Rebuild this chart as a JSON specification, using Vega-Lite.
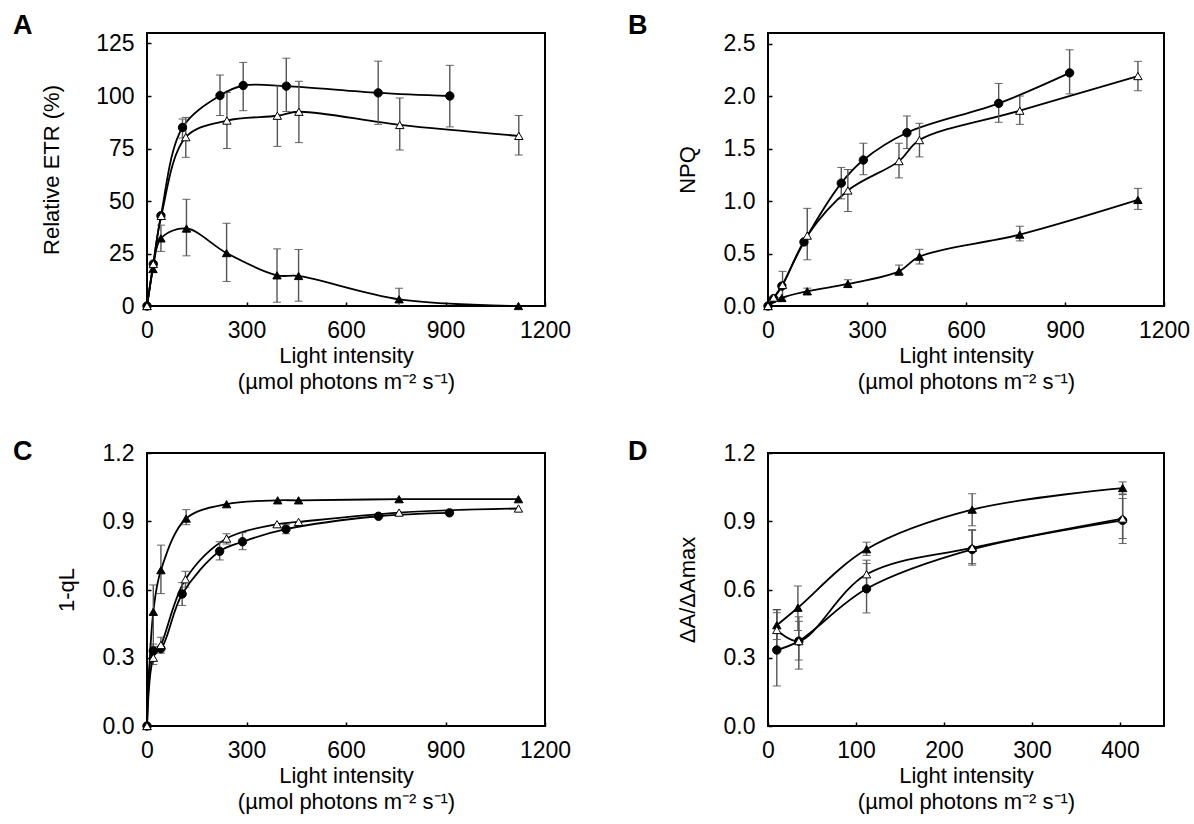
{
  "$schema": "https://vega.github.io/schema/vega-lite/v6.json",
  "background": "white",
  "padding": {"left": 12, "top": 10, "right": 5, "bottom": 5},
  "config": {
    "font": "Liberation Sans",
    "view": {"stroke": "black", "strokeWidth": 2},
    "axis": {"grid": false, "domain": false, "tickColor": "black", "tickSize": -4, "tickWidth": 1.5, "labelFontSize": 23, "titleFontSize": 22, "titleFontWeight": "normal", "labelColor": "black", "titleColor": "black", "labelFlush": false, "labelOverlap": false},
    "axisX": {"labelPadding": 17, "titlePadding": 3, "titleLineHeight": 26},
    "axisY": {"labelPadding": 17, "titlePadding": 24},
    "title": {"fontSize": 27, "fontWeight": "bold", "anchor": "start", "frame": "group", "baseline": "alphabetic", "offset": 0, "color": "black"}
  },
  "data": {"values": [
    {"p":"A","s":"c","x":0,"y":0},
    {"p":"A","s":"c","x":19,"y":20},
    {"p":"A","s":"c","x":42,"y":43},
    {"p":"A","s":"c","x":107,"y":85,"lo":80,"hi":89},
    {"p":"A","s":"c","x":220,"y":100.2,"lo":90.7,"hi":110},
    {"p":"A","s":"c","x":290,"y":105,"lo":93,"hi":116},
    {"p":"A","s":"c","x":420,"y":104.7,"lo":92.6,"hi":118},
    {"p":"A","s":"c","x":697,"y":101.5,"lo":86.5,"hi":116.6},
    {"p":"A","s":"c","x":913,"y":100,"lo":85.3,"hi":114.6},
    {"p":"A","s":"t","x":0,"y":0},
    {"p":"A","s":"t","x":18,"y":17.6},
    {"p":"A","s":"t","x":42,"y":32.2,"lo":26,"hi":38.5},
    {"p":"A","s":"t","x":119,"y":36.9,"lo":23.9,"hi":50.8},
    {"p":"A","s":"t","x":240,"y":25.2,"lo":11.7,"hi":39.4},
    {"p":"A","s":"t","x":392,"y":14.6,"lo":1.8,"hi":27.2},
    {"p":"A","s":"t","x":457,"y":14.3,"lo":2.3,"hi":26.9},
    {"p":"A","s":"t","x":760,"y":3.2,"lo":0,"hi":8.5},
    {"p":"A","s":"t","x":1120,"y":0},
    {"p":"A","s":"o","x":0,"y":0},
    {"p":"A","s":"o","x":19,"y":20},
    {"p":"A","s":"o","x":43,"y":42.9},
    {"p":"A","s":"o","x":117,"y":80.4,"lo":70.8,"hi":89.8},
    {"p":"A","s":"o","x":241,"y":88.3,"lo":75,"hi":101.7},
    {"p":"A","s":"o","x":393,"y":90.6,"lo":76,"hi":105},
    {"p":"A","s":"o","x":458,"y":92.5,"lo":77.8,"hi":107},
    {"p":"A","s":"o","x":762,"y":86.2,"lo":74.3,"hi":99},
    {"p":"A","s":"o","x":1121,"y":81,"lo":71.9,"hi":90.7},

    {"p":"B","s":"c","x":0,"y":0},
    {"p":"B","s":"c","x":17,"y":0.07},
    {"p":"B","s":"c","x":42,"y":0.19},
    {"p":"B","s":"c","x":109,"y":0.61},
    {"p":"B","s":"c","x":222,"y":1.17,"lo":1.02,"hi":1.32},
    {"p":"B","s":"c","x":289,"y":1.39,"lo":1.25,"hi":1.55},
    {"p":"B","s":"c","x":421,"y":1.65,"lo":1.5,"hi":1.81},
    {"p":"B","s":"c","x":699,"y":1.93,"lo":1.75,"hi":2.12},
    {"p":"B","s":"c","x":914,"y":2.22,"lo":2.02,"hi":2.44},
    {"p":"B","s":"t","x":0,"y":0},
    {"p":"B","s":"t","x":42,"y":0.076},
    {"p":"B","s":"t","x":119,"y":0.14,"lo":0.11,"hi":0.17},
    {"p":"B","s":"t","x":242,"y":0.21,"lo":0.18,"hi":0.25},
    {"p":"B","s":"t","x":397,"y":0.33,"lo":0.29,"hi":0.39},
    {"p":"B","s":"t","x":459,"y":0.47,"lo":0.4,"hi":0.54},
    {"p":"B","s":"t","x":763,"y":0.68,"lo":0.62,"hi":0.76},
    {"p":"B","s":"t","x":1121,"y":1.01,"lo":0.92,"hi":1.12},
    {"p":"B","s":"o","x":0,"y":0},
    {"p":"B","s":"o","x":17,"y":0.08},
    {"p":"B","s":"o","x":44,"y":0.2,"lo":0.08,"hi":0.33},
    {"p":"B","s":"o","x":119,"y":0.67,"lo":0.44,"hi":0.93},
    {"p":"B","s":"o","x":242,"y":1.1,"lo":0.9,"hi":1.3},
    {"p":"B","s":"o","x":397,"y":1.38,"lo":1.22,"hi":1.55},
    {"p":"B","s":"o","x":459,"y":1.58,"lo":1.42,"hi":1.74},
    {"p":"B","s":"o","x":763,"y":1.86,"lo":1.73,"hi":2.0},
    {"p":"B","s":"o","x":1121,"y":2.19,"lo":2.05,"hi":2.33},

    {"p":"C","s":"c","x":0,"y":0},
    {"p":"C","s":"c","x":19,"y":0.33},
    {"p":"C","s":"c","x":42,"y":0.34},
    {"p":"C","s":"c","x":106,"y":0.58,"lo":0.53,"hi":0.63},
    {"p":"C","s":"c","x":219,"y":0.768,"lo":0.73,"hi":0.81},
    {"p":"C","s":"c","x":288,"y":0.81,"lo":0.775,"hi":0.85},
    {"p":"C","s":"c","x":419,"y":0.865,"lo":0.845,"hi":0.885},
    {"p":"C","s":"c","x":698,"y":0.922},
    {"p":"C","s":"c","x":912,"y":0.937},
    {"p":"C","s":"t","x":0,"y":0},
    {"p":"C","s":"t","x":19,"y":0.502,"lo":0.35,"hi":0.62},
    {"p":"C","s":"t","x":42,"y":0.685,"lo":0.582,"hi":0.795},
    {"p":"C","s":"t","x":118,"y":0.912,"lo":0.885,"hi":0.951},
    {"p":"C","s":"t","x":240,"y":0.975},
    {"p":"C","s":"t","x":394,"y":0.992},
    {"p":"C","s":"t","x":457,"y":0.992},
    {"p":"C","s":"t","x":760,"y":0.997},
    {"p":"C","s":"t","x":1120,"y":0.997},
    {"p":"C","s":"o","x":0,"y":0},
    {"p":"C","s":"o","x":19,"y":0.3,"lo":0.27,"hi":0.36},
    {"p":"C","s":"o","x":42,"y":0.356,"lo":0.32,"hi":0.39},
    {"p":"C","s":"o","x":116,"y":0.645,"lo":0.61,"hi":0.68},
    {"p":"C","s":"o","x":240,"y":0.824,"lo":0.8,"hi":0.845},
    {"p":"C","s":"o","x":392,"y":0.887},
    {"p":"C","s":"o","x":457,"y":0.897},
    {"p":"C","s":"o","x":760,"y":0.938},
    {"p":"C","s":"o","x":1120,"y":0.956},

    {"p":"D","s":"c","x":10,"y":0.334,"lo":0.176,"hi":0.51},
    {"p":"D","s":"c","x":35,"y":0.373,"lo":0.25,"hi":0.48},
    {"p":"D","s":"c","x":112,"y":0.603,"lo":0.497,"hi":0.714},
    {"p":"D","s":"c","x":232,"y":0.776,"lo":0.707,"hi":0.86},
    {"p":"D","s":"c","x":403,"y":0.904,"lo":0.802,"hi":1.0},
    {"p":"D","s":"t","x":10,"y":0.443,"lo":0.38,"hi":0.512},
    {"p":"D","s":"t","x":34,"y":0.52,"lo":0.42,"hi":0.615},
    {"p":"D","s":"t","x":112,"y":0.777,"lo":0.75,"hi":0.808},
    {"p":"D","s":"t","x":232,"y":0.951,"lo":0.88,"hi":1.021},
    {"p":"D","s":"t","x":403,"y":1.046,"lo":1.02,"hi":1.073},
    {"p":"D","s":"o","x":10,"y":0.422,"lo":0.34,"hi":0.498},
    {"p":"D","s":"o","x":35,"y":0.373,"lo":0.29,"hi":0.46},
    {"p":"D","s":"o","x":112,"y":0.667,"lo":0.612,"hi":0.729},
    {"p":"D","s":"o","x":232,"y":0.783,"lo":0.714,"hi":0.863},
    {"p":"D","s":"o","x":403,"y":0.912,"lo":0.824,"hi":1.017}
  ]},
  "columns": 2,
  "spacing": {"column": 55, "row": 44},
  "concat": [
    {
      "title": {"text": "A", "dx": -134, "dy": 11},
      "width": 398, "height": 273,
      "transform": [{"filter": "datum.p == 'A'"}],
      "layer": [
        {"mark": {"type": "line", "interpolate": "catmull-rom", "color": "black", "strokeWidth": 1.8},
         "encoding": {
           "x": {"field": "x", "type": "quantitative", "scale": {"domain": [0, 1200]}, "axis": {"values": [0, 300, 600, 900, 1200], "format": "d"}, "title": ["Light intensity", "(µmol photons m⁻² s⁻¹)"]},
           "y": {"field": "y", "type": "quantitative", "scale": {"domain": [0, 125]}, "axis": {"values": [0, 25, 50, 75, 100, 125], "format": "d", "titlePadding": 32}, "title": "Relative ETR (%)"},
           "detail": {"field": "s"}, "order": {"field": "x"}}},
        {"transform": [{"filter": "isValid(datum.lo)"}],
         "mark": {"type": "errorbar", "ticks": {"size": 8, "strokeWidth": 1.3, "color": "#222"}, "rule": {"strokeWidth": 1.4, "color": "#555"}},
         "encoding": {
           "x": {"field": "x", "type": "quantitative", "title": ["Light intensity", "(µmol photons m⁻² s⁻¹)"]},
           "y": {"field": "lo", "type": "quantitative", "title": "Relative ETR (%)"},
           "y2": {"field": "hi"}}},
        {"mark": {"type": "point", "filled": true, "stroke": "black", "strokeWidth": 1, "size": 70, "opacity": 1},
         "encoding": {
           "x": {"field": "x", "type": "quantitative", "title": ["Light intensity", "(µmol photons m⁻² s⁻¹)"]},
           "y": {"field": "y", "type": "quantitative", "title": "Relative ETR (%)"},
           "shape": {"field": "s", "type": "nominal", "scale": {"domain": ["c", "t", "o"], "range": ["circle", "triangle-up", "triangle-up"]}, "legend": null},
           "fill": {"field": "s", "type": "nominal", "scale": {"domain": ["c", "t", "o"], "range": ["black", "black", "white"]}, "legend": null}}}
      ]
    },
    {
      "title": {"text": "B", "dx": -140, "dy": 11},
      "width": 396, "height": 273,
      "transform": [{"filter": "datum.p == 'B'"}],
      "layer": [
        {"mark": {"type": "line", "interpolate": "catmull-rom", "color": "black", "strokeWidth": 1.8},
         "encoding": {
           "x": {"field": "x", "type": "quantitative", "scale": {"domain": [0, 1200]}, "axis": {"values": [0, 300, 600, 900, 1200], "format": "d"}, "title": ["Light intensity", "(µmol photons m⁻² s⁻¹)"]},
           "y": {"field": "y", "type": "quantitative", "scale": {"domain": [0, 2.5]}, "axis": {"values": [0, 0.5, 1, 1.5, 2, 2.5], "format": ".1f"}, "title": "NPQ"},
           "detail": {"field": "s"}, "order": {"field": "x"}}},
        {"transform": [{"filter": "isValid(datum.lo)"}],
         "mark": {"type": "errorbar", "ticks": {"size": 8, "strokeWidth": 1.3, "color": "#222"}, "rule": {"strokeWidth": 1.4, "color": "#555"}},
         "encoding": {
           "x": {"field": "x", "type": "quantitative", "title": ["Light intensity", "(µmol photons m⁻² s⁻¹)"]},
           "y": {"field": "lo", "type": "quantitative", "title": "NPQ"},
           "y2": {"field": "hi"}}},
        {"mark": {"type": "point", "filled": true, "stroke": "black", "strokeWidth": 1, "size": 70, "opacity": 1},
         "encoding": {
           "x": {"field": "x", "type": "quantitative", "title": ["Light intensity", "(µmol photons m⁻² s⁻¹)"]},
           "y": {"field": "y", "type": "quantitative", "title": "NPQ"},
           "shape": {"field": "s", "type": "nominal", "scale": {"domain": ["c", "t", "o"], "range": ["circle", "triangle-up", "triangle-up"]}, "legend": null},
           "fill": {"field": "s", "type": "nominal", "scale": {"domain": ["c", "t", "o"], "range": ["black", "black", "white"]}, "legend": null}}}
      ]
    },
    {
      "title": {"text": "C", "dx": -134, "dy": 28},
      "width": 398, "height": 273,
      "transform": [{"filter": "datum.p == 'C'"}],
      "layer": [
        {"mark": {"type": "line", "interpolate": "catmull-rom", "color": "black", "strokeWidth": 1.8},
         "encoding": {
           "x": {"field": "x", "type": "quantitative", "scale": {"domain": [0, 1200]}, "axis": {"values": [0, 300, 600, 900, 1200], "format": "d"}, "title": ["Light intensity", "(µmol photons m⁻² s⁻¹)"]},
           "y": {"field": "y", "type": "quantitative", "scale": {"domain": [0, 1.2]}, "axis": {"values": [0, 0.3, 0.6, 0.9, 1.2], "format": ".1f"}, "title": "1-qL"},
           "detail": {"field": "s"}, "order": {"field": "x"}}},
        {"transform": [{"filter": "isValid(datum.lo)"}],
         "mark": {"type": "errorbar", "ticks": {"size": 8, "strokeWidth": 1.3, "color": "#222"}, "rule": {"strokeWidth": 1.4, "color": "#555"}},
         "encoding": {
           "x": {"field": "x", "type": "quantitative", "title": ["Light intensity", "(µmol photons m⁻² s⁻¹)"]},
           "y": {"field": "lo", "type": "quantitative", "title": "1-qL"},
           "y2": {"field": "hi"}}},
        {"mark": {"type": "point", "filled": true, "stroke": "black", "strokeWidth": 1, "size": 70, "opacity": 1},
         "encoding": {
           "x": {"field": "x", "type": "quantitative", "title": ["Light intensity", "(µmol photons m⁻² s⁻¹)"]},
           "y": {"field": "y", "type": "quantitative", "title": "1-qL"},
           "shape": {"field": "s", "type": "nominal", "scale": {"domain": ["c", "t", "o"], "range": ["circle", "triangle-up", "triangle-up"]}, "legend": null},
           "fill": {"field": "s", "type": "nominal", "scale": {"domain": ["c", "t", "o"], "range": ["black", "black", "white"]}, "legend": null}}}
      ]
    },
    {
      "title": {"text": "D", "dx": -140, "dy": 28},
      "width": 396, "height": 273,
      "transform": [{"filter": "datum.p == 'D'"}],
      "layer": [
        {"mark": {"type": "line", "interpolate": "catmull-rom", "color": "black", "strokeWidth": 1.8},
         "encoding": {
           "x": {"field": "x", "type": "quantitative", "scale": {"domain": [0, 450]}, "axis": {"values": [0, 100, 200, 300, 400], "format": "d"}, "title": ["Light intensity", "(µmol photons m⁻² s⁻¹)"]},
           "y": {"field": "y", "type": "quantitative", "scale": {"domain": [0, 1.2]}, "axis": {"values": [0, 0.3, 0.6, 0.9, 1.2], "format": ".1f"}, "title": "ΔA/ΔAmax"},
           "detail": {"field": "s"}, "order": {"field": "x"}}},
        {"transform": [{"filter": "isValid(datum.lo)"}],
         "mark": {"type": "errorbar", "ticks": {"size": 8, "strokeWidth": 1.3, "color": "#222"}, "rule": {"strokeWidth": 1.4, "color": "#555"}},
         "encoding": {
           "x": {"field": "x", "type": "quantitative", "title": ["Light intensity", "(µmol photons m⁻² s⁻¹)"]},
           "y": {"field": "lo", "type": "quantitative", "title": "ΔA/ΔAmax"},
           "y2": {"field": "hi"}}},
        {"mark": {"type": "point", "filled": true, "stroke": "black", "strokeWidth": 1, "size": 70, "opacity": 1},
         "encoding": {
           "x": {"field": "x", "type": "quantitative", "title": ["Light intensity", "(µmol photons m⁻² s⁻¹)"]},
           "y": {"field": "y", "type": "quantitative", "title": "ΔA/ΔAmax"},
           "shape": {"field": "s", "type": "nominal", "scale": {"domain": ["c", "t", "o"], "range": ["circle", "triangle-up", "triangle-up"]}, "legend": null},
           "fill": {"field": "s", "type": "nominal", "scale": {"domain": ["c", "t", "o"], "range": ["black", "black", "white"]}, "legend": null}}}
      ]
    }
  ]
}
